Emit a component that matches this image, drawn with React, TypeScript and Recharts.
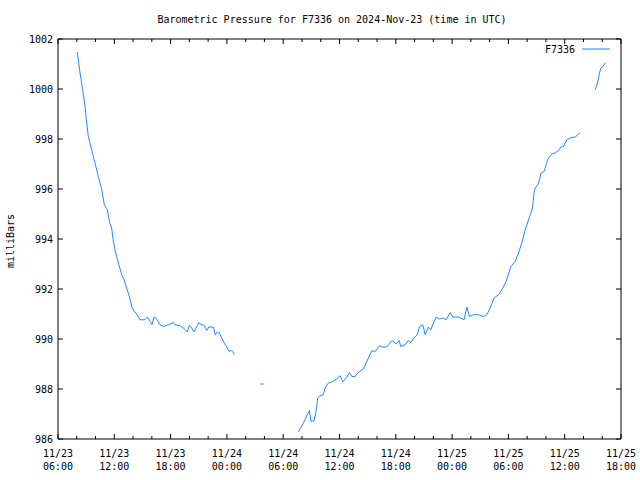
import React from 'react';
import { LineChart, Line, XAxis, YAxis, ReferenceArea } from 'recharts';

// hours counted from 2024-11-23 00:00 UTC; null breaks the trace (missing data)
const hours = [
  8.06, 8.35, 8.63, 8.88, 9.06, 9.23, 9.59, 9.94, 10.3, 10.66, 10.94, 11.26, 11.47, 11.72, 11.9,
  12.15, 12.43, 12.79, 13.04, 13.32, 13.6, 13.86, 14.1, 14.32, 14.56, 14.74, 15.27, 15.52, 15.81,
  16.02, 16.23, 16.52, 16.87, 17.23, 17.76, 18.29, 18.47, 19.0, 19.36, 19.78, 20.0, 20.25, 20.5,
  20.79, 21.06, 21.24, 21.57, 21.85, 22.07, 22.56, 22.77, 22.98, 23.2, 23.45, 23.7, 23.99, 24.23,
  24.52, 24.62, 24.8,
  26.0,
  27.55, 27.95,
  29.0,
  31.62, 32.15, 32.79, 32.97, 33.29, 33.5, 33.68, 33.93, 34.28, 34.46, 34.82, 35.18, 35.6, 36.06,
  36.35, 36.78, 37.06, 37.31, 37.66, 38.01, 38.55, 39.08, 39.44, 39.8, 40.25, 40.62, 41.04, 41.58,
  42.03, 42.35, 42.53, 42.99, 43.35, 43.6, 43.95, 44.3, 44.52, 44.88, 45.13, 45.48, 45.73, 46.01,
  46.3, 46.65, 47.01, 47.36, 47.79, 48.08, 48.68, 49.28, 49.57, 49.85, 50.27, 50.81, 51.34, 51.7,
  52.06, 52.48, 52.94, 53.3, 53.76, 54.26, 54.72, 55.07, 55.43, 55.79, 55.97, 56.32, 56.57, 56.75,
  56.85, 57.2, 57.49, 57.81, 58.02, 58.27, 58.63, 58.98, 59.34, 59.59, 59.87, 60.23, 60.58, 61.12,
  61.65,
  62.5,
  63.25, 63.5, 63.71, 63.86, 64.07, 64.35,
];

const pressure = [
  1001.48, 1000.64, 999.97, 999.3, 998.64, 998.1, 997.57, 997.04, 996.5, 995.97, 995.37, 995.17,
  994.7, 994.44, 993.9, 993.44, 993.04, 992.57, 992.37, 992.04, 991.7, 991.3, 991.1, 991.04,
  990.88, 990.77, 990.77, 990.88, 990.7, 990.57, 990.88, 990.8, 990.57, 990.5, 990.57, 990.66,
  990.57, 990.53, 990.44, 990.28, 990.54, 990.44, 990.28, 990.5, 990.66, 990.57, 990.55, 990.34,
  990.48, 990.48, 990.17, 990.28, 990.24, 990.04, 989.86, 989.68, 989.5, 989.54, 989.5, 989.37,
  null,
  988.2, 988.2,
  null,
  986.28, 986.64, 987.14, 986.7, 986.74, 987.1, 987.64, 987.73, 987.77, 988.04, 988.24, 988.28,
  988.37, 988.53, 988.28, 988.48, 988.66, 988.5, 988.5, 988.66, 988.8, 989.24, 989.53, 989.5,
  989.73, 989.68, 989.68, 989.94, 989.81, 989.94, 989.7, 989.77, 989.94, 989.86, 990.04, 990.17,
  990.5, 990.57, 990.17, 990.48, 990.37, 990.64, 990.88, 990.8, 990.84, 990.77, 991.06, 990.88,
  990.88, 990.77, 991.28, 990.9, 990.97, 990.97, 990.9, 990.97,
  991.24, 991.64, 991.77, 991.97, 992.3, 992.9, 993.1, 993.44, 993.84, 994.37, 994.57, 994.97,
  995.24, 995.9, 996.04, 996.21, 996.64, 996.7, 996.97, 997.24, 997.4, 997.44, 997.54, 997.68,
  997.7, 997.97, 998.04, 998.08, 998.26,
  null,
  999.97, 1000.24, 1000.64, 1000.84, 1000.9, 1001.06,
];

// x ticks every 2 h, labelled every 6 h
const tickHours = [6, 8, 10, 12, 14, 16, 18, 20, 22, 24, 26, 28, 30, 32, 34, 36, 38, 40, 42, 44, 46, 48, 50, 52, 54, 56, 58, 60, 62, 64, 66];
const tickDays = ['11/23', '11/23', '11/23', '11/24', '11/24', '11/24', '11/24', '11/25', '11/25', '11/25', '11/25'];
const tickClock = ['06:00', '12:00', '18:00', '00:00', '06:00', '12:00', '18:00', '00:00', '06:00', '12:00', '18:00'];
const yTicks = [986, 988, 990, 992, 994, 996, 998, 1000, 1002];

const data = hours.map((h, i) => ({ h, p: pressure[i] }));

const W = 640;
const H = 480;
const LEFT = 58;
const RIGHT = 621;
const TOP = 39;
const BOTTOM = 439;
const PLOT_W = RIGHT - LEFT;
const PLOT_H = BOTTOM - TOP;
const FONT = '"DejaVu Sans Mono", "Liberation Mono", monospace';
const LINE_COLOR = '#1e88ff';

const XTick = (props: any) => {
  const { x, y, payload } = props;
  const h = payload.value;
  const major = h % 6 === 0;
  const len = major ? 5 : 3;
  const idx = (h - 6) / 6;
  return (
    <g>
      <line x1={x} x2={x} y1={y} y2={y - len} stroke="#000" />
      <line x1={x} x2={x} y1={y - PLOT_H} y2={y - PLOT_H + len} stroke="#000" />
      {major && (
        <text x={x} y={y + 18} textAnchor="middle" fontFamily={FONT} fontSize={10} fill="#000">
          <tspan x={x}>{tickDays[idx]}</tspan>
          <tspan x={x} dy={13}>{tickClock[idx]}</tspan>
        </text>
      )}
    </g>
  );
};

const YTick = (props: any) => {
  const { x, y, payload } = props;
  return (
    <g>
      <line x1={x} x2={x + 5} y1={y} y2={y} stroke="#000" />
      <line x1={x + PLOT_W} x2={x + PLOT_W - 5} y1={y} y2={y} stroke="#000" />
      <text x={x - 5} y={y + 3.5} textAnchor="end" fontFamily={FONT} fontSize={10} fill="#000">
        {payload.value}
      </text>
    </g>
  );
};

export default function App() {
  return (
    <div style={{ position: 'absolute', left: 0, top: 0, width: W, height: H, background: '#fff' }}>
      <LineChart
        width={W}
        height={H}
        data={data}
        margin={{ top: TOP, left: 0, right: W - RIGHT, bottom: 0 }}
      >
        <XAxis
          dataKey="h"
          type="number"
          domain={[6, 66]}
          ticks={tickHours}
          interval={0}
          height={H - BOTTOM}
          tickSize={0}
          tickMargin={0}
          tickLine={false}
          axisLine={false}
          tick={(p: any) => <XTick {...p} />}
        />
        <YAxis
          type="number"
          domain={[986, 1002]}
          ticks={yTicks}
          interval={0}
          width={LEFT}
          tickSize={0}
          tickMargin={0}
          tickLine={false}
          axisLine={false}
          allowDataOverflow
          tick={(p: any) => <YTick {...p} />}
        />
        <ReferenceArea x1={6} x2={66} y1={986} y2={1002} fill="none" stroke="#000" strokeWidth={1} ifOverflow="extendDomain" />
        <Line
          dataKey="p"
          type="linear"
          stroke={LINE_COLOR}
          strokeWidth={1}
          dot={false}
          connectNulls={false}
          isAnimationActive={false}
        />
      </LineChart>
      <svg width={W} height={H} style={{ position: 'absolute', left: 0, top: 0, pointerEvents: 'none' }}>
        <text x={332} y={23} textAnchor="middle" fontFamily={FONT} fontSize={10} fill="#000">
          Barometric Pressure for F7336 on 2024-Nov-23 (time in UTC)
        </text>
        <text
          x={14}
          y={241}
          textAnchor="middle"
          fontFamily={FONT}
          fontSize={10}
          fill="#000"
          transform="rotate(-90 14 241)"
        >
          milliBars
        </text>
        <text x={575} y={53} textAnchor="end" fontFamily={FONT} fontSize={10} fill="#000">
          F7336
        </text>
        <line x1={582} x2={610} y1={49} y2={49} stroke={LINE_COLOR} strokeWidth={1} />
      </svg>
    </div>
  );
}
